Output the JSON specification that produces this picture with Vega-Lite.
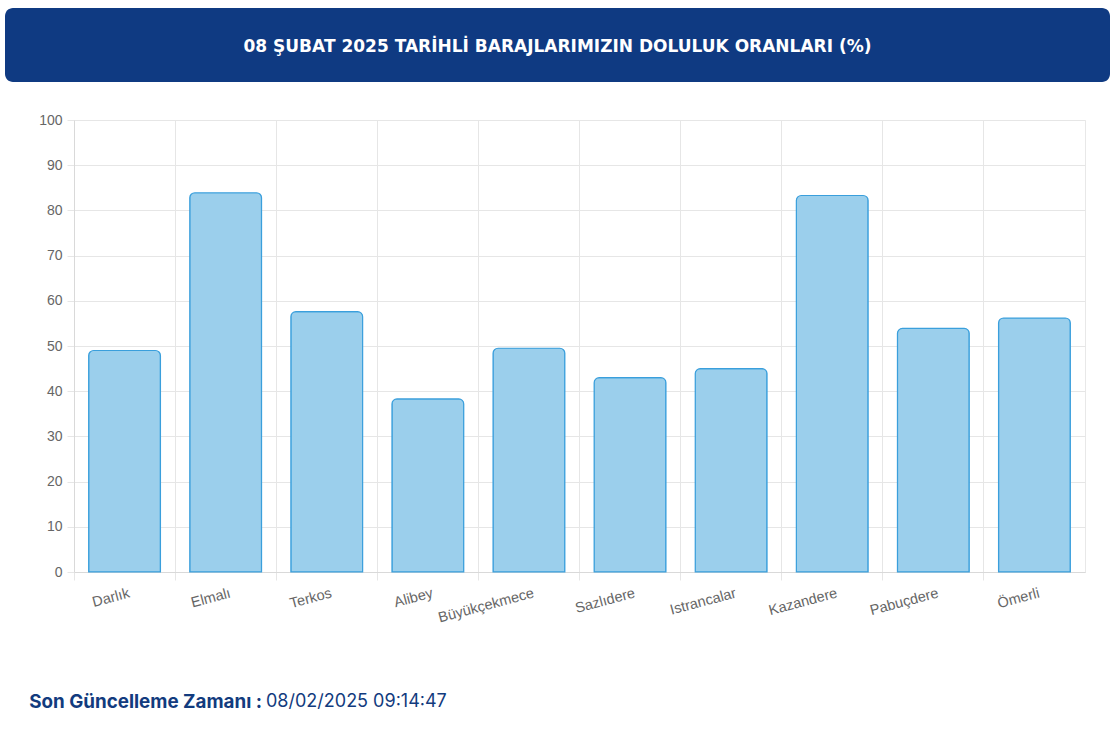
{
  "$schema": "https://vega.github.io/schema/vega-lite/v6.json",
  "background": "white",
  "padding": {"left": 5, "top": 8, "right": 7, "bottom": 0},
  "spacing": 30,
  "config": {
    "view": {"stroke": null},
    "font": "Liberation Sans"
  },
  "datasets": {
    "dams": [
      {"baraj": "Darlık", "doluluk": 49.0},
      {"baraj": "Elmalı", "doluluk": 83.9},
      {"baraj": "Terkos", "doluluk": 57.6},
      {"baraj": "Alibey", "doluluk": 38.3},
      {"baraj": "Büyükçekmece", "doluluk": 49.5},
      {"baraj": "Sazlıdere", "doluluk": 43.0},
      {"baraj": "Istrancalar", "doluluk": 45.0},
      {"baraj": "Kazandere", "doluluk": 83.3},
      {"baraj": "Pabuçdere", "doluluk": 53.9},
      {"baraj": "Ömerli", "doluluk": 56.2}
    ]
  },
  "vconcat": [
    {
      "width": 1105,
      "height": 74,
      "view": {"fill": "#0f3a82", "stroke": null, "cornerRadius": 8},
      "data": {"values": [{"baslik": "08 ŞUBAT 2025 TARİHLİ BARAJLARIMIZIN DOLULUK ORANLARI (%)"}]},
      "mark": {"type": "text", "color": "white", "font": "DejaVu Sans", "fontWeight": "bold", "fontSize": 17, "baseline": "middle", "dy": 2},
      "encoding": {"text": {"field": "baslik"}}
    },
    {
      "spacing": 0,
      "hconcat": [
        {
          "width": 1,
          "height": 452,
          "data": {"values": []},
          "mark": {"type": "text"},
          "encoding": {}
        },
        {
          "width": 1011,
          "height": 452,
          "view": {"stroke": "#e8e8e8"},
          "data": {"name": "dams"},
          "mark": {
            "type": "bar",
            "width": {"band": 0.71},
            "fill": "#9bcfec",
            "stroke": "#3a9fdc",
            "strokeWidth": 1.2,
            "cornerRadiusTopLeft": 5,
            "cornerRadiusTopRight": 5
          },
          "encoding": {
            "x": {
              "field": "baraj",
              "type": "nominal",
              "sort": null,
              "scale": {"paddingInner": 0, "paddingOuter": 0},
              "axis": {
                "title": null,
                "grid": true,
                "bandPosition": 0,
                "labelOffset": 3,
                "labelAngle": -15,
                "labelAlign": "right",
                "labelBaseline": "top",
                "labelPadding": 6,
                "labelOverlap": false,
                "labelFontSize": 14.5,
                "labelColor": "#666666",
                "tickSize": 8,
                "tickColor": "#e6e6e6",
                "gridColor": "#e6e6e6",
                "domainColor": "#d9d9d9"
              }
            },
            "y": {
              "field": "doluluk",
              "type": "quantitative",
              "scale": {"domain": [0, 100]},
              "axis": {
                "title": null,
                "values": [0, 10, 20, 30, 40, 50, 60, 70, 80, 90, 100],
                "labelFontSize": 14,
                "labelColor": "#666666",
                "labelPadding": 5,
                "tickSize": 7,
                "tickColor": "#e6e6e6",
                "gridColor": "#e6e6e6",
                "domainColor": "#d9d9d9",
                "minExtent": 67
              }
            }
          }
        }
      ]
    },
    {
      "width": 514,
      "height": 94,
      "data": {"values": [{}]},
      "layer": [
        {
          "mark": {"type": "text", "align": "right", "baseline": "middle", "font": "Inter", "fontWeight": "bold", "fontSize": 18.8, "color": "#123b7e"},
          "encoding": {"text": {"value": "Son Güncelleme Zamanı :"}}
        },
        {
          "mark": {"type": "text", "align": "left", "baseline": "middle", "font": "Inter", "fontSize": 18, "color": "#123b7e", "dx": 4},
          "encoding": {"text": {"value": "08/02/2025 09:14:47"}}
        }
      ]
    }
  ]
}
